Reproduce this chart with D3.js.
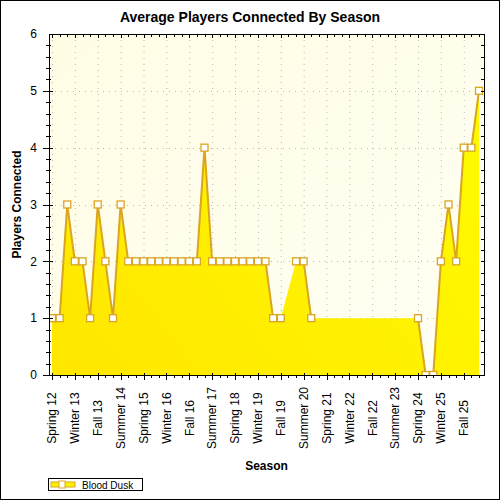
<!DOCTYPE html>
<html>
<head>
<meta charset="utf-8">
<script src="https://cdn.jsdelivr.net/npm/d3@7"></script>
<style>
  body { margin: 0; background: #fff; }
  svg { display: block; font-family: "Liberation Sans", Arial, sans-serif; }
</style>
</head>
<body>
<svg id="chart" width="500" height="500"></svg>
<script>
// seasons in order (every 3rd one gets a label)
const seasons = [
  "Spring 12","Summer 12","Fall 12",
  "Winter 13","Spring 13","Summer 13","Fall 13",
  "Winter 14","Spring 14","Summer 14","Fall 14",
  "Winter 15","Spring 15","Summer 15","Fall 15",
  "Winter 16","Spring 16","Summer 16","Fall 16",
  "Winter 17","Spring 17","Summer 17","Fall 17",
  "Winter 18","Spring 18","Summer 18","Fall 18",
  "Winter 19","Spring 19","Summer 19","Fall 19",
  "Winter 20","Spring 20","Summer 20","Fall 20",
  "Winter 21","Spring 21","Summer 21","Fall 21",
  "Winter 22","Spring 22","Summer 22","Fall 22",
  "Winter 23","Spring 23","Summer 23","Fall 23",
  "Winter 24","Spring 24","Summer 24","Fall 24",
  "Winter 25","Spring 25","Summer 25","Fall 25",
  "Winter 26","Spring 26"
];
// average players, null = no data for that season
const bloodDusk = [
  1,1,3,2,2,1,3,2,1,3,
  2,2,2,2,2,2,2,2,2,2,
  4,2,2,2,2,2,2,2,2,1,
  1,null,2,2,1,null,null,null,null,null,
  null,null,null,null,null,null,null,null,1,0,
  0,2,3,2,4,4,5
];
const yTicks = [0,1,2,3,4,5,6];
const seriesName = "Blood Dusk";

const W = 500, H = 500;
const plot = {left: 49, right: 484, top: 34, bottom: 375};
const svg = d3.select('#chart');

const x = d3.scalePoint().domain(seasons).range([52, 479]);
const y = d3.scaleLinear().domain([0, 6]).range([plot.bottom, plot.top]);

const data = seasons.map((s, i) => ({s, v: bloodDusk[i]}));
const defined = data.filter(d => d.v != null);

const defs = svg.append('defs');
const bg = defs.append('linearGradient').attr('id', 'bgGrad')
  .attr('x1', '0%').attr('y1', '0%').attr('x2', '100%').attr('y2', '100%');
bg.append('stop').attr('offset', '0%').attr('stop-color', '#fffde4');
bg.append('stop').attr('offset', '100%').attr('stop-color', '#fffff4');
const fg = defs.append('linearGradient').attr('id', 'areaGrad')
  .attr('gradientUnits', 'userSpaceOnUse')
  .attr('x1', plot.left).attr('y1', plot.bottom).attr('x2', plot.right).attr('y2', plot.top);
fg.append('stop').attr('offset', '0%').attr('stop-color', '#ffe600');
fg.append('stop').attr('offset', '100%').attr('stop-color', '#fffc00');
defs.append('clipPath').attr('id', 'clip')
  .append('rect')
  .attr('x', plot.left).attr('y', plot.top)
  .attr('width', plot.right - plot.left).attr('height', plot.bottom - plot.top);

// outer frame
svg.append('rect').attr('x', 0.5).attr('y', 0.5).attr('width', W - 1).attr('height', H - 1)
  .attr('fill', '#fff').attr('stroke', '#000');

// plot background
svg.append('rect')
  .attr('x', plot.left).attr('y', plot.top)
  .attr('width', plot.right - plot.left).attr('height', plot.bottom - plot.top)
  .attr('fill', 'url(#bgGrad)');

// grid
const majorCats = seasons.filter((s, i) => i % 3 === 0);
const grid = svg.append('g').attr('stroke', '#b8b8b8').attr('stroke-dasharray', '1,5');
grid.selectAll('line.v').data(majorCats).join('line').attr('class', 'v')
  .attr('x1', d => x(d) + 0.5).attr('x2', d => x(d) + 0.5)
  .attr('y1', plot.top).attr('y2', plot.bottom);
grid.selectAll('line.h').data(yTicks.slice(1, -1)).join('line').attr('class', 'h')
  .attr('x1', plot.left).attr('x2', plot.right)
  .attr('y1', d => Math.round(y(d)) + 0.5).attr('y2', d => Math.round(y(d)) + 0.5);

// series
const g = svg.append('g').attr('clip-path', 'url(#clip)');
g.append('path').datum(defined)
  .attr('fill', 'url(#areaGrad)')
  .attr('d', d3.area().x(d => x(d.s)).y0(y(0)).y1(d => y(d.v)));
g.append('path').datum(data)
  .attr('fill', 'none').attr('stroke', '#daa520').attr('stroke-width', 2)
  .attr('d', d3.line().defined(d => d.v != null).x(d => x(d.s)).y(d => y(d.v)));
g.selectAll('rect.pt').data(defined).join('rect').attr('class', 'pt')
  .attr('x', d => x(d.s) - 3.5).attr('y', d => y(d.v) - 3.5)
  .attr('width', 7).attr('height', 7)
  .attr('fill', '#fff').attr('stroke', '#daa520').attr('stroke-width', 1.3);

// axes frame and ticks
const ax = svg.append('g').attr('stroke', '#000').attr('shape-rendering', 'crispEdges');
ax.append('rect')
  .attr('x', plot.left).attr('y', plot.top)
  .attr('width', plot.right - plot.left).attr('height', plot.bottom - plot.top)
  .attr('fill', 'none');
const yMinor = d3.range(0, 30).map(i => i / 5);
ax.selectAll('line.ylm').data(yMinor).join('line').attr('class', 'ylm')
  .attr('x1', d => d % 1 === 0 ? plot.left - 6 : plot.left - 3)
  .attr('x2', d => d % 1 === 0 ? plot.left + 4 : plot.left + 2)
  .attr('y1', d => Math.round(y(d))).attr('y2', d => Math.round(y(d)));
ax.selectAll('line.yr').data(yMinor).join('line').attr('class', 'yr')
  .attr('x1', plot.right - 3).attr('x2', plot.right)
  .attr('y1', d => Math.round(y(d))).attr('y2', d => Math.round(y(d)));
ax.selectAll('line.xb').data(seasons).join('line').attr('class', 'xb')
  .attr('x1', d => Math.round(x(d))).attr('x2', d => Math.round(x(d)))
  .attr('y1', (d, i) => i % 3 === 0 ? plot.bottom - 2 : plot.bottom)
  .attr('y2', (d, i) => i % 3 === 0 ? plot.bottom + 5 : plot.bottom + 3);
ax.selectAll('line.xt').data(seasons).join('line').attr('class', 'xt')
  .attr('x1', d => Math.round(x(d))).attr('x2', d => Math.round(x(d)))
  .attr('y1', plot.top)
  .attr('y2', (d, i) => i % 3 === 0 ? plot.top + 4 : plot.top + 3);

// tick labels
svg.append('g').selectAll('text').data(yTicks).join('text')
  .attr('x', 37).attr('y', d => y(d)).attr('dy', '0.36em')
  .attr('text-anchor', 'end').attr('font-size', 12).attr('fill', '#000')
  .text(d => d);
svg.append('g').selectAll('text').data(majorCats).join('text')
  .attr('transform', d => `translate(${x(d)},418) rotate(-90)`)
  .attr('dy', '0.36em').attr('text-anchor', 'middle')
  .attr('font-size', 12).attr('fill', '#000')
  .text(d => d);

// titles
svg.append('text').attr('x', 250).attr('y', 22).attr('text-anchor', 'middle')
  .attr('font-size', 14).attr('font-weight', 'bold').text('Average Players Connected By Season');
svg.append('text').attr('x', (plot.left + plot.right) / 2).attr('y', 470).attr('text-anchor', 'middle')
  .attr('font-size', 12).attr('font-weight', 'bold').text('Season');
svg.append('text').attr('transform', `translate(21,${(plot.top + plot.bottom) / 2}) rotate(-90)`)
  .attr('text-anchor', 'middle')
  .attr('font-size', 12).attr('font-weight', 'bold').text('Players Connected');

// legend
const lg = svg.append('g');
lg.append('rect').attr('x', 48.5).attr('y', 478.5).attr('width', 94).attr('height', 12)
  .attr('fill', '#fff').attr('stroke', '#000');
lg.append('rect').attr('x', 51).attr('y', 482).attr('width', 24).attr('height', 5)
  .attr('fill', '#fff200').attr('stroke', '#daa520').attr('stroke-width', 1);
lg.append('rect').attr('x', 59).attr('y', 481).attr('width', 6).attr('height', 7)
  .attr('fill', '#fff').attr('stroke', '#daa520');
lg.append('text').attr('x', 82).attr('y', 488.5).attr('font-size', 10).text(seriesName);
</script>
</body>
</html>
